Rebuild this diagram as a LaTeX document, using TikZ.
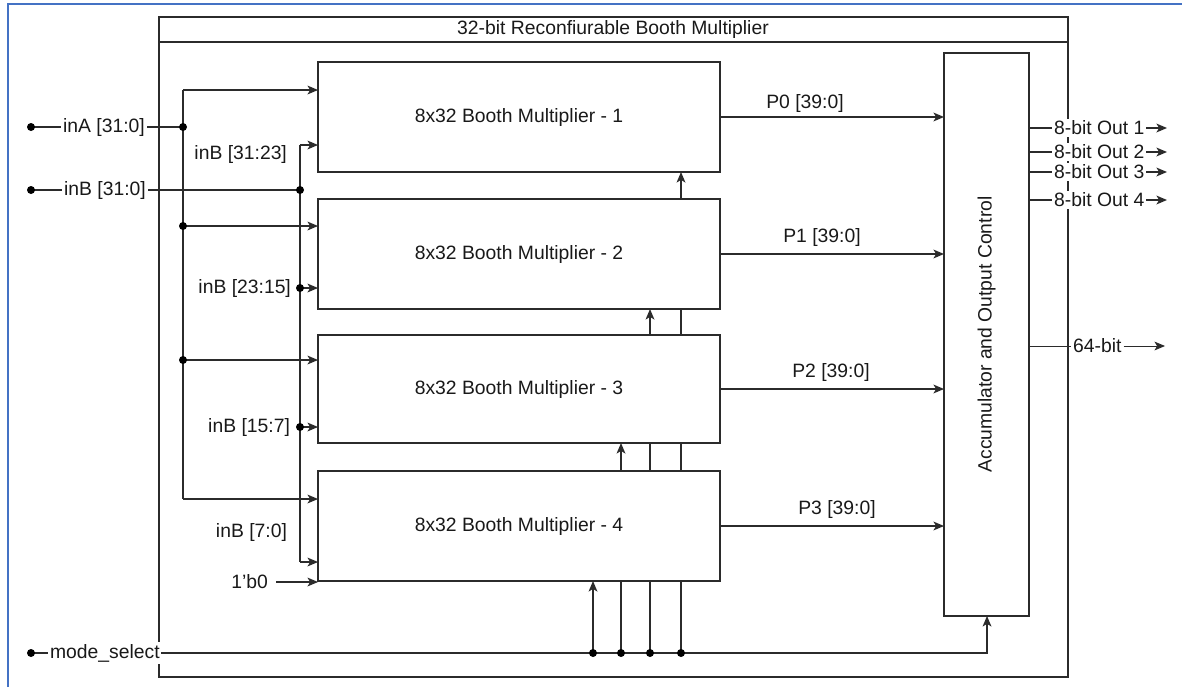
\documentclass[tikz,border=0pt]{standalone}
\usepackage{fontspec}
\setmainfont{Liberation Sans}
\usetikzlibrary{arrows.meta}
\pgfdeclarelayer{bg}
\pgfsetlayers{bg,main}
\definecolor{ln}{HTML}{2b2b2b}
\definecolor{framecol}{HTML}{4472C4}
\tikzset{
 wire/.style={draw=ln, line width=0.85pt},
 arr/.style={wire, -{Stealth[length=6pt,width=5pt,inset=1.5pt]}},
 box/.style={draw=ln, line width=0.85pt, fill=white, inner sep=0pt, outer sep=0pt, font=\fontsize{11}{13}\selectfont, text=black!90},
 jdot/.style={circle, fill=black, inner sep=0pt, minimum size=0.16cm},
 lbl/.style={font=\fontsize{11}{13}\selectfont, text=black!90, inner sep=1pt},
 wlbl/.style={lbl, fill=white},
}
\begin{document}
\begin{tikzpicture}[x=0.02cm,y=-0.02cm]
\useasboundingbox (0,0) rectangle (1182,687);
\draw[framecol, line width=1.5pt] (8,687) -- (8,4) -- (1182,4);

% main frame
\node[box, fill=none, minimum width=18.18cm, minimum height=13.2cm] (main) at (613.5,347) {};
\coordinate (tl) at (159,42);
\draw[wire] (tl) -- (tl -| main.east);
\node[lbl] (title) at (613,29) {32-bit Reconfiurable Booth Multiplier};

% multipliers
\node[box, minimum width=8.04cm, minimum height=2.2cm] (b1) at (519,117) {8x32 Booth Multiplier - 1};
\node[box, minimum width=8.04cm, minimum height=2.2cm] (b2) at (519,254) {8x32 Booth Multiplier - 2};
\node[box, minimum width=8.04cm, minimum height=2.16cm] (b3) at (519,389) {8x32 Booth Multiplier - 3};
\node[box, minimum width=8.04cm, minimum height=2.2cm] (b4) at (519,526) {8x32 Booth Multiplier - 4};

% accumulator
\node[box, minimum width=1.7cm, minimum height=11.26cm] (acc) at (986.5,334.5) {};
\node[lbl, rotate=90] (acct) at (acc.center) {Accumulator and Output Control};

% inputs
\node[jdot] (dA) at (31,127) {};
\node[wlbl, anchor=west] (inA) at (61,127) {inA [31:0]};
\node[jdot] (jA) at (183,127) {};
\node[jdot] (dB) at (31,190) {};
\node[wlbl, anchor=west] (inB) at (62,190) {inB [31:0]};
\node[jdot] (jB) at (300,190) {};
\node[jdot] (ja2) at (183,226) {};
\node[jdot] (ja3) at (183,360) {};
\node[jdot] (jb2) at (300,288) {};
\node[jdot] (jb3) at (300,427) {};
\coordinate (a0) at (183,90);
\coordinate (a4) at (183,499);
\coordinate (c0) at (300,145);
\coordinate (c4) at (300,562);

\node[lbl, anchor=east] (l1) at (289,154) {inB [31:23]};
\node[lbl, anchor=east] (l2) at (293,288) {inB [23:15]};
\node[lbl, anchor=east] (l3) at (292,427) {inB [15:7]};
\node[lbl, anchor=east] (l4) at (289,532) {inB [7:0]};
\node[lbl, anchor=east] (zero) at (270,582) {1'b0};
\coordinate (z) at (276,582);

% mode select
\node[jdot] (dM) at (31,653) {};
\node[wlbl, anchor=west] (ms) at (48,653) {mode\_select};
\node[jdot] (m1) at (593,653) {};
\node[jdot] (m2) at (621,653) {};
\node[jdot] (m3) at (650,653) {};
\node[jdot] (m4) at (681,653) {};
\coordinate (mc) at (987,653);

% products
\node[lbl] (p0) at (805,103) {P0 [39:0]};
\node[lbl] (p1) at (822,237) {P1 [39:0]};
\node[lbl] (p2) at (831,372) {P2 [39:0]};
\node[lbl] (p3) at (837,509) {P3 [39:0]};

% outputs
\node[wlbl, anchor=west] (o1) at (1052,128) {8-bit Out 1};
\node[wlbl, anchor=west] (o2) at (1052,152) {8-bit Out 2};
\node[wlbl, anchor=west] (o3) at (1052,172) {8-bit Out 3};
\node[wlbl, anchor=west] (o4) at (1052,200) {8-bit Out 4};
\node[wlbl, anchor=west] (o64) at (1071,346) {64-bit};
\coordinate (e1) at (1167,128);
\coordinate (e2) at (1167,152);
\coordinate (e3) at (1167,172);
\coordinate (e4) at (1167,200);
\coordinate (e64) at (1165,346);

\begin{pgfonlayer}{bg}
% inA
\draw[wire] (dA.center) -- (jA.center);
\draw[wire] (a0) -- (a4);
\draw[arr] (a0) -- (a0 -| b1.west);
\draw[arr] (ja2.center) -- (ja2 -| b2.west);
\draw[arr] (ja3.center) -- (ja3 -| b3.west);
\draw[arr] (a4) -- (a4 -| b4.west);
% inB
\draw[wire] (dB.center) -- (jB.center);
\draw[wire] (c0) -- (c4);
\draw[arr] (c0) -- (c0 -| b1.west);
\draw[arr] (jb2.center) -- (jb2 -| b2.west);
\draw[arr] (jb3.center) -- (jb3 -| b3.west);
\draw[arr] (c4) -- (c4 -| b4.west);
\draw[arr] (z) -- (z -| b4.west);
% mode select
\draw[arr] (dM.center) -- (mc) -- (mc |- acc.south);
\draw[arr] (m1.center) -- (m1 |- b4.south);
\draw[arr] (m2.center) -- (m2 |- b3.south);
\draw[arr] (m3.center) -- (m3 |- b2.south);
\draw[arr] (m4.center) -- (m4 |- b1.south);
% products
\draw[arr] (b1.east) -- (b1.east -| acc.west);
\draw[arr] (b2.east) -- (b2.east -| acc.west);
\draw[arr] (b3.east) -- (b3.east -| acc.west);
\draw[arr] (b4.east) -- (b4.east -| acc.west);
% outputs
\draw[wire] (o1 -| acc.east) -- (o1.west);
\draw[wire] (o2 -| acc.east) -- (o2.west);
\draw[wire] (o3 -| acc.east) -- (o3.west);
\draw[wire] (o4 -| acc.east) -- (o4.west);
\draw[arr] (o1.east) -- (e1);
\draw[arr] (o2.east) -- (e2);
\draw[arr] (o3.east) -- (e3);
\draw[arr] (o4.east) -- (e4);
\draw[wire, line width=0.5pt] (o64 -| acc.east) -- (o64.west);
\draw[arr, line width=0.5pt] (o64.east) -- (e64);
\end{pgfonlayer}
\end{tikzpicture}
\end{document}
